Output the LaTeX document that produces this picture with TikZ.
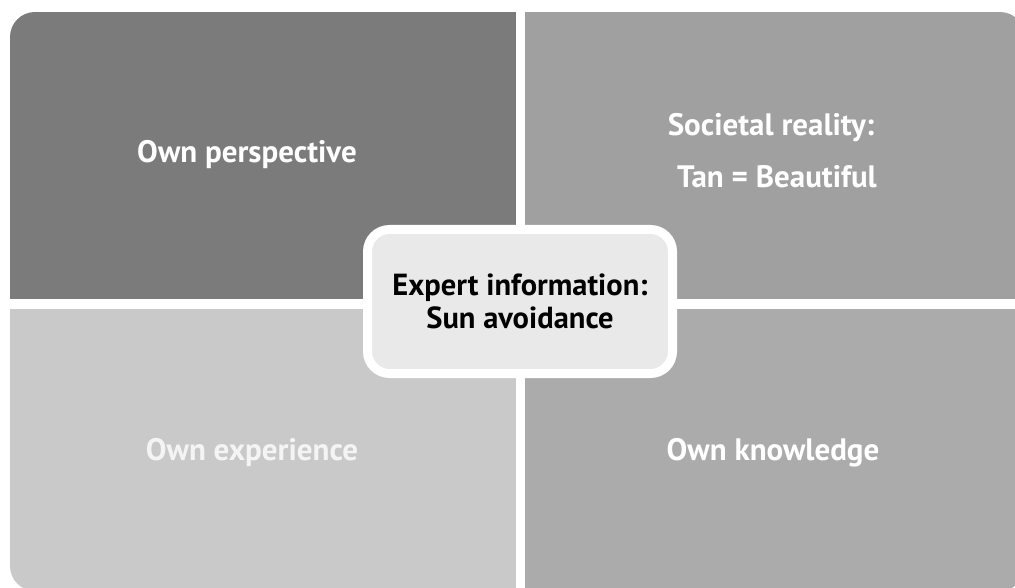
\documentclass[tikz,border=0pt]{standalone}
\usepackage{fontspec}
\setmainfont{PT Sans}
\definecolor{tlc}{HTML}{7B7B7B}
\definecolor{trc}{HTML}{A0A0A0}
\definecolor{blc}{HTML}{C9C9C9}
\definecolor{brc}{HTML}{ABABAB}
\definecolor{cfill}{HTML}{E9E9E9}
\definecolor{ltext}{HTML}{F4F4F4}
\begin{document}
\begin{tikzpicture}[x=1pt,y=-1pt,
  lbl/.style={font=\fontsize{31}{40}\selectfont\bfseries, text=white, align=center, inner sep=0pt},
  centerbox/.style={draw=white, line width=9pt, fill=cfill, rounded corners=22pt,
    minimum width=305pt, minimum height=144pt, inner sep=0pt,
    font=\fontsize{30.5}{33}\selectfont\bfseries, text=black, align=center}]
\useasboundingbox (0,0) rectangle (1015,588);
\fill[white] (0,0) rectangle (1015,588);
\begin{scope}
  \clip[rounded corners=25pt] (10,12) rectangle (1025,591);
  \fill[tlc] (10,12) rectangle (516,299);
  \fill[trc] (525,12) rectangle (1025,299);
  \fill[blc] (10,309) rectangle (516,591);
  \fill[brc] (525,309) rectangle (1025,591);
\end{scope}
\node[lbl] (persp) at (247,155) {Own perspective};
\node[lbl] (soc) at (771,128) {Societal reality:};
\node[lbl] (tan) at (777,177) {Tan = Beautiful};
\node[lbl, text=ltext] (exper) at (252,453) {Own experience};
\node[lbl] (know) at (773,453) {Own knowledge};
\node[centerbox] (expert) at (520,301.5) {Expert information:\\Sun avoidance};
\end{tikzpicture}
\end{document}
